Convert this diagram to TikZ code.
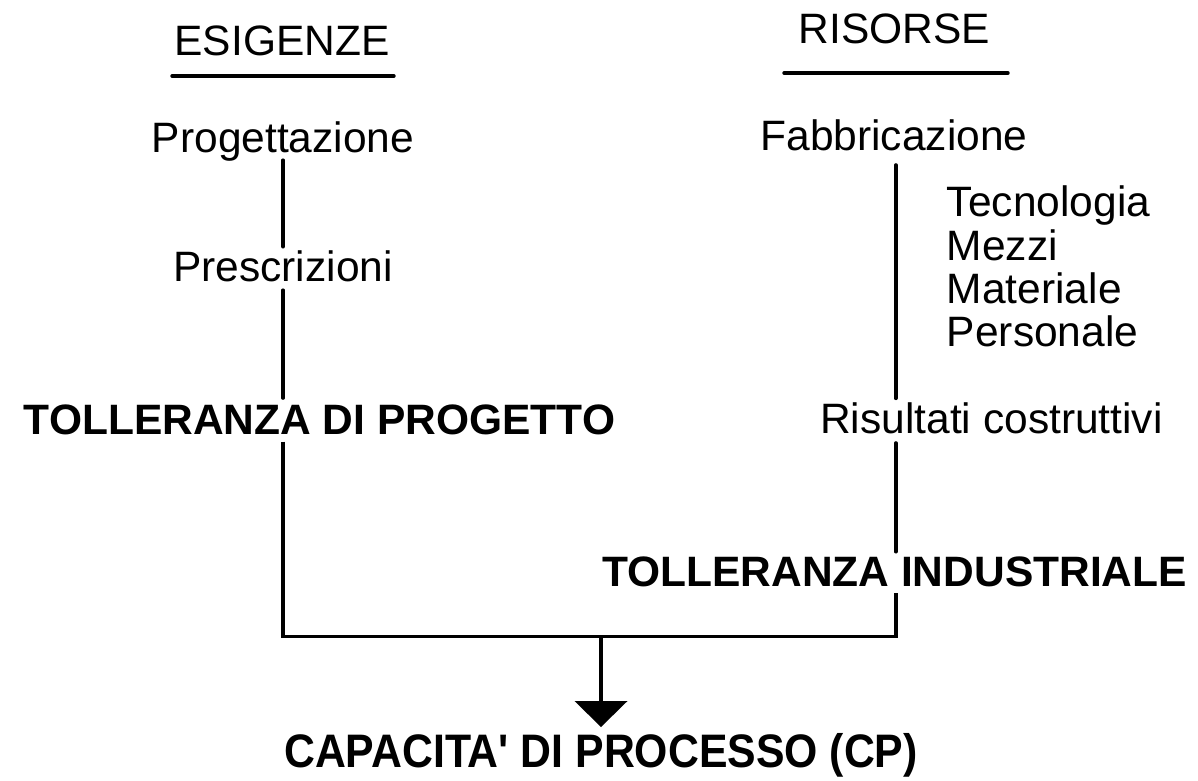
\documentclass[tikz,border=0pt]{standalone}
\usepackage{fontspec}
\setmainfont{Liberation Sans}
\begin{document}
\begin{tikzpicture}[x=1pt,y=-1pt,
  txt/.style={inner sep=0pt,anchor=base,font=\fontsize{42.5}{51}\selectfont},
  bold/.style={txt,font=\fontsize{42.5}{51}\selectfont\bfseries},
  conn/.style={line width=3.6pt,line cap=round},
  ulin/.style={line width=3.4pt,line cap=round}]
\useasboundingbox (0,0) rectangle (1198,780);
% headings
\node[txt] (esig) at (282,55) {ESIGENZE};
\coordinate (u1a) at (172,76); \coordinate (u1b) at (394,76);
\draw[ulin] (u1a) -- (u1b);
\node[txt] (ris) at (894.5,43) {RISORSE};
\coordinate (u2a) at (784,73); \coordinate (u2b) at (1008,73);
\draw[ulin] (u2a) -- (u2b);
% left column
\node[txt] (prog) at (283,152.7) {Progettazione};
\node[txt] (presc) at (283,281.7) {Prescrizioni};
\node[bold] (tdp) at (319.5,434) {TOLLERANZA DI PROGETTO};
% right column
\node[txt] (fab) at (894,150) {Fabbricazione};
\node[txt,anchor=base west] (tec) at (946.7,216.7) {Tecnologia};
\node[txt,anchor=base west] (mez) at (946.7,260) {Mezzi};
\node[txt,anchor=base west] (mat) at (946.7,303) {Materiale};
\node[txt,anchor=base west] (per) at (946.7,346.7) {Personale};
\node[txt] (risc) at (991.5,433) {Risultati costruttivi};
\node[bold] (tind) at (894.5,586.7) {TOLLERANZA INDUSTRIALE};
% bottom
\node[txt,font=\fontsize{47}{56}\selectfont\bfseries,xscale=0.91] (cap) at (601,767) {CAPACITA\textquotesingle{} DI PROCESSO (CP)};
% connector points
\coordinate (lx) at (283,0);
\coordinate (rx) at (895.7,0);
\coordinate (cl) at (283,636.5);
\coordinate (cr) at (895.7,636.5);
\coordinate (cm) at (601,636.5);
\coordinate (tipbase) at (601,701);
% left connectors
\draw[conn] ([yshift=-7.5pt]prog.base) -- ([yshift=35pt]presc.base);
\draw[conn] ([yshift=-8.5pt]presc.base) -- ([yshift=36pt]tdp.base -| lx);
\draw[conn,line cap=butt] ([yshift=-7.5pt]tdp.base -| lx) -- (cl) -- (cr) -- ([yshift=-6.5pt]tind.base -| rx);
% right connectors
\draw[conn] ([yshift=-15pt]fab.base -| rx) -- ([yshift=34.7pt]risc.base -| rx);
\draw[conn] ([yshift=-10pt]risc.base -| rx) -- ([yshift=35pt]tind.base -| rx);
% down arrow
\draw[conn,line cap=butt] (cm) -- (tipbase);
\fill ([xshift=-26.5pt]tipbase) -- ([xshift=26.5pt]tipbase) -- ([yshift=-26pt]tipbase) -- cycle;
\end{tikzpicture}
\end{document}
